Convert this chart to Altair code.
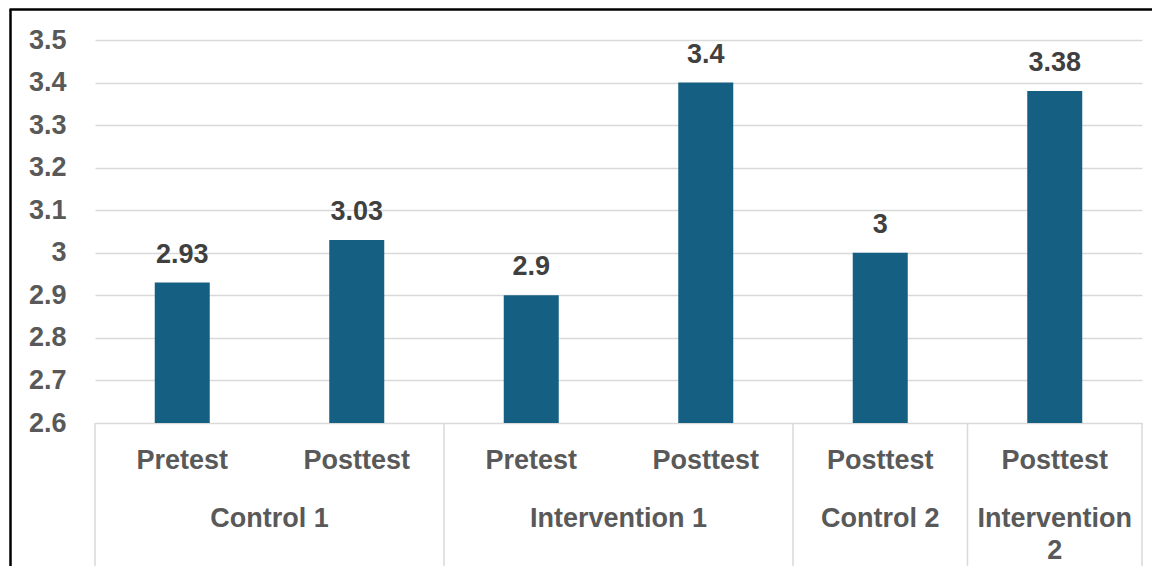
import altair as alt
import pandas as pd

groups = ["Control 1", "Control 1", "Intervention 1", "Intervention 1", "Control 2", "Intervention 2"]
phases = ["Pretest", "Posttest", "Pretest", "Posttest", "Posttest", "Posttest"]
values = [2.93, 3.03, 2.9, 3.4, 3.0, 3.38]
y_ticks = [2.6, 2.7, 2.8, 2.9, 3.0, 3.1, 3.2, 3.3, 3.4, 3.5]

FONT = "Liberation Sans"
FS = 27
AXIS_GREY = "#595959"
VAL_GREY = "#404040"
GRID = "#d9d9d9"
BAR = "#156082"
W, H = 1047, 383
BOTTOM = 143

bars = pd.DataFrame({
    "pos": [i + 0.5 for i in range(len(values))],
    "group": groups,
    "phase": phases,
    "value": values,
    "base": [y_ticks[0]] * len(values),
})

# group spans derived from the category lists
spans = []
start = 0
for i in range(1, len(groups) + 1):
    if i == len(groups) or groups[i] != groups[start]:
        spans.append((groups[start], start, i))
        start = i


def display(name, n):
    if n == 1 and len(name) > 12:
        a, b = name.rsplit(" ", 1)
        return a + "\n" + b
    return name


grp = pd.DataFrame({
    "center": [(s + e) / 2 for _, s, e in spans],
    "label": [display(g, e - s) for g, s, e in spans],
})
bounds = pd.DataFrame({"b": sorted({s for _, s, _ in spans} | {e for _, _, e in spans})})

xscale = alt.Scale(domain=[0, len(values)], nice=False, zero=False, padding=0)
yscale = alt.Scale(domain=[y_ticks[0], y_ticks[-1]], nice=False, zero=False)

base = alt.Chart(bars)

bar_layer = base.mark_bar(size=55, color=BAR).encode(
    x=alt.X("pos:Q", scale=xscale, axis=None),
    y=alt.Y("value:Q", scale=yscale,
            axis=alt.Axis(values=y_ticks, format="~g", title=None, grid=True,
                          gridColor=GRID, gridWidth=1.5, ticks=False, domain=False,
                          labelFont=FONT, labelFontSize=FS, labelFontWeight="bold",
                          labelColor=AXIS_GREY, labelPadding=29)),
    y2="base:Q",
)

val_layer = base.mark_text(font=FONT, fontSize=FS, fontWeight="bold", color=VAL_GREY,
                           baseline="alphabetic", dy=-20).encode(
    x=alt.X("pos:Q", scale=xscale),
    y=alt.Y("value:Q", scale=yscale),
    text=alt.Text("value:Q", format="~g"),
)

phase_layer = base.mark_text(font=FONT, fontSize=FS, fontWeight="bold", color=AXIS_GREY,
                             baseline="alphabetic").encode(
    x=alt.X("pos:Q", scale=xscale),
    y=alt.value(H + 46),
    text="phase:N",
)

group_layer = alt.Chart(grp).mark_text(font=FONT, fontSize=FS, fontWeight="bold",
                                       color=AXIS_GREY, baseline="alphabetic",
                                       lineBreak="\n", lineHeight=32).encode(
    x=alt.X("center:Q", scale=xscale),
    y=alt.value(H + 104),
    text="label:N",
)

sep_layer = alt.Chart(bounds).mark_rule(color=GRID, strokeWidth=1.5).encode(
    x=alt.X("b:Q", scale=xscale),
    y=alt.value(H),
    y2=alt.value(H + BOTTOM),
)

frame = alt.Data(values=[{}])
left_border = alt.Chart(frame).mark_rule(color="black", strokeWidth=2.5).encode(
    x=alt.value(-84.5), y=alt.value(-30.5), y2=alt.value(H + BOTTOM))
top_border = alt.Chart(frame).mark_rule(color="black", strokeWidth=2.5).encode(
    x=alt.value(-85.5), x2=alt.value(W + 20), y=alt.value(-30.5))

chart = alt.layer(
    bar_layer, val_layer, phase_layer, group_layer, sep_layer, left_border, top_border
).properties(
    width=W, height=H,
    autosize=alt.AutoSizeParams(type="none"),
    padding={"left": 87, "top": 32, "right": 10, "bottom": BOTTOM},
).configure(background="white").configure_view(stroke=None)

chart.save("out.html", embed_options={"renderer": "svg", "actions": False})
